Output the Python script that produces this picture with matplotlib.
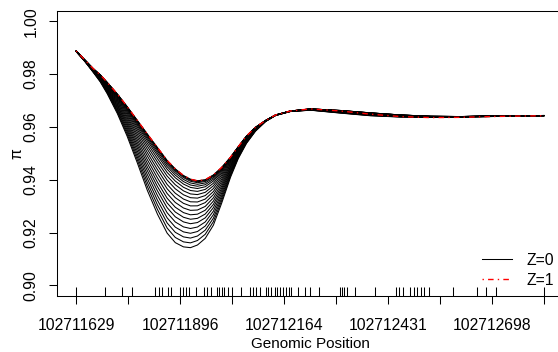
import numpy as np
import matplotlib
matplotlib.use("Agg")
import matplotlib.pyplot as plt

plt.rcParams['font.family'] = ['Liberation Sans', 'DejaVu Sans']

pos = [102711629, 102711652, 102711673, 102711691, 102711709, 102711735, 102711760,
       102711786, 102711812, 102711838, 102711863, 102711884, 102711905, 102711923,
       102711941, 102711961, 102711982, 102712003, 102712026, 102712046, 102712067,
       102712090, 102712116, 102712142, 102712180, 102712232, 102712309, 102712386,
       102712464, 102712541, 102712618, 102712696, 102712773, 102712832]

# shallowest (Z=0 top) curve
pi_top = [0.9887, 0.9852, 0.9820, 0.9797, 0.9768, 0.9724, 0.9677,
          0.9625, 0.9573, 0.9522, 0.9473, 0.9441, 0.9416, 0.9402,
          0.9396, 0.9400, 0.9418, 0.9446, 0.9485, 0.9525, 0.9565,
          0.9598, 0.9624, 0.9645, 0.9660, 0.9668, 0.9662, 0.9653,
          0.9645, 0.9640, 0.9639, 0.9641, 0.9642, 0.9643]

# deepest curve
pi_bottom = [0.9885, 0.9846, 0.9806, 0.9770, 0.9725, 0.9650, 0.9565,
             0.9465, 0.9360, 0.9270, 0.9198, 0.9162, 0.9146, 0.9143,
             0.9153, 0.9178, 0.9228, 0.9310, 0.9409, 0.9480, 0.9537,
             0.9583, 0.9620, 0.9643, 0.9658, 0.9663, 0.9652, 0.9642,
             0.9637, 0.9636, 0.9637, 0.9639, 0.9641, 0.9642]

# Z=1 curve
pi_z1 = [0.9887, 0.9852, 0.9820, 0.9797, 0.9768, 0.9724, 0.9677,
         0.9625, 0.9573, 0.9522, 0.9473, 0.9441, 0.9416, 0.9402,
         0.9396, 0.9400, 0.9418, 0.9446, 0.9485, 0.9525, 0.9565,
         0.9598, 0.9624, 0.9645, 0.9660, 0.9668, 0.9660, 0.9648,
         0.9639, 0.9635, 0.9636, 0.9639, 0.9641, 0.9642]

# relative depth of each black curve (0 = top, 1 = bottom)
depth = [0.0, 0.005, 0.015, 0.03, 0.055, 0.085, 0.12, 0.165, 0.215, 0.27, 0.33,
         0.39, 0.455, 0.52, 0.585, 0.65, 0.72, 0.79, 0.86, 0.93, 1.0]

# SNP positions (rug)
snps = [102711629, 102711704, 102711748, 102711773, 102711831, 102711841, 102711851,
        102711864, 102711874, 102711897, 102711904, 102711911, 102711919, 102711936,
        102711958, 102711966, 102711975, 102711991, 102711997, 102712003, 102712010,
        102712019, 102712030, 102712052, 102712075, 102712083, 102712092, 102712101,
        102712118, 102712123, 102712129, 102712140, 102712146, 102712153, 102712162,
        102712168, 102712176, 102712182, 102712199, 102712217, 102712230, 102712253,
        102712307, 102712313, 102712319, 102712326, 102712346, 102712399, 102712453,
        102712460, 102712470, 102712489, 102712498, 102712507, 102712517, 102712524,
        102712538, 102712599, 102712661, 102712683, 102712708, 102712832]

x_ticks = np.linspace(snps[0], snps[-1], 10)
x_labels = ["{:.0f}".format(t) if i % 2 == 0 else "" for i, t in enumerate(x_ticks)]
y_ticks = [0.90, 0.92, 0.94, 0.96, 0.98, 1.00]

fig = plt.figure(figsize=(5.58, 3.52), dpi=100)
ax = fig.add_axes([0.103, 0.159, 0.905, 0.811])

top = np.array(pi_top)
bot = np.array(pi_bottom)
lines = []
for d in depth:
    lines += ax.plot(pos, top + d * (bot - top), color='black', lw=0.75)
red, = ax.plot(pos, pi_z1, color='red', lw=1.0, linestyle=(0, (1, 3, 4, 3)))

ax.vlines(snps, 0, 0.03, transform=ax.get_xaxis_transform(), color='black', lw=0.75)

span = snps[-1] - snps[0]
ax.set_xlim(snps[0] - 0.04 * span, snps[-1] + 0.04 * span)
ax.set_ylim(0.896, 1.004)

ax.set_xticks(x_ticks)
ax.set_xticklabels(x_labels)
ax.set_yticks(y_ticks)
ax.set_yticklabels(["{:.2f}".format(v) for v in y_ticks], rotation=90, va='center')
ax.tick_params(length=5.5, width=0.75, labelsize=11.3)
ax.tick_params(axis='x', pad=10)
ax.tick_params(axis='y', pad=8)
for s in ax.spines.values():
    s.set_linewidth(0.75)

ax.set_xlabel("Genomic Position", fontsize=11)
ax.xaxis.set_label_coords(0.5, -0.168)
ax.xaxis.label.set_va('center')
ax.set_ylabel("π", fontsize=11.3)
ax.yaxis.set_label_coords(-0.08, 0.5)
ax.yaxis.label.set_va('center')

ax.legend([lines[0], red], ["Z=0", "Z=1"], loc='lower right', frameon=False, fontsize=11.3,
          handlelength=1.9, handletextpad=0.9, labelspacing=0.3,
          bbox_to_anchor=(1.018, 0.143), bbox_transform=fig.transFigure)

fig.savefig("out.png", dpi=100)
